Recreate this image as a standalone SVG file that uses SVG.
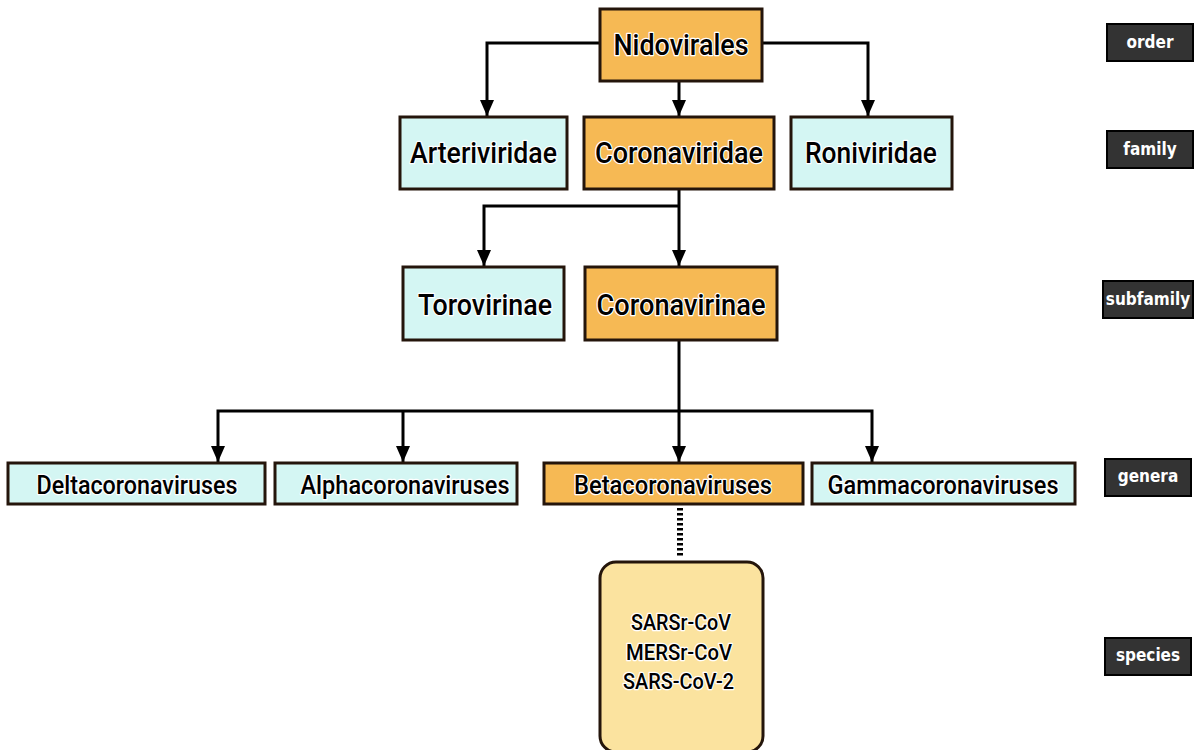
<svg xmlns="http://www.w3.org/2000/svg" width="1200" height="750" viewBox="0 0 1200 750">
<defs>
<marker id="ah" markerUnits="userSpaceOnUse" markerWidth="18" markerHeight="16" viewBox="0 0 18 16" refX="17" refY="8" orient="auto">
<path d="M1,1 L17,8 L1,15 Z" fill="#000"/>
</marker>
</defs>
<style>
.or{fill:#f6b954;stroke:#24150b;stroke-width:3}
.cy{fill:#d4f6f3;stroke:#24150b;stroke-width:3}
.sp{fill:#fbe39f;stroke:#24150b;stroke-width:3}
.t{font-family:Roboto,"Liberation Sans",sans-serif;font-weight:500;fill:#000;stroke:#fff;stroke-width:2.5;paint-order:stroke;stroke-linejoin:round;text-anchor:middle}
.big{font-size:30px}
.mid{font-size:26px}
.sm{font-size:22px}
.lb{fill:#333;stroke:#000;stroke-width:2}
.lt{font-family:"DejaVu Sans",sans-serif;font-stretch:condensed;font-weight:bold;font-size:17px;fill:#fff;text-anchor:middle}
.c{fill:none;stroke:#000;stroke-width:3}
</style>
<rect width="1200" height="750" fill="#fff"/>
<g id="connectors">
<path class="c" d="M600,43 H487 V116" marker-end="url(#ah)"/>
<path class="c" d="M762,43 H868 V116" marker-end="url(#ah)"/>
<path class="c" d="M679,81 V116" marker-end="url(#ah)"/>
<path class="c" d="M679,189 V266" marker-end="url(#ah)"/>
<path class="c" d="M679,206 H484 V266" marker-end="url(#ah)"/>
<path class="c" d="M679,340 V462" marker-end="url(#ah)"/>
<path class="c" d="M679,411 H218 V462" marker-end="url(#ah)"/>
<path class="c" d="M403,411 V462" marker-end="url(#ah)"/>
<path class="c" d="M679,411 H872 V462" marker-end="url(#ah)"/>
<path d="M680,508 V556" fill="none" stroke="#000" stroke-width="6" stroke-dasharray="2.5 2.5"/>
</g>
<g id="nidovirales"><rect class="or" x="600" y="9" width="162" height="72"/><text class="t big" x="681" y="55" textLength="135" lengthAdjust="spacingAndGlyphs">Nidovirales</text></g>
<g id="arteriviridae"><rect class="cy" x="400" y="117" width="167" height="72"/><text class="t big" x="483.5" y="163" textLength="147" lengthAdjust="spacingAndGlyphs">Arteriviridae</text></g>
<g id="coronaviridae"><rect class="or" x="584" y="117" width="190" height="72"/><text class="t big" x="679" y="163" textLength="168" lengthAdjust="spacingAndGlyphs">Coronaviridae</text></g>
<g id="roniviridae"><rect class="cy" x="791" y="117" width="161" height="72"/><text class="t big" x="871" y="163" textLength="132" lengthAdjust="spacingAndGlyphs">Roniviridae</text></g>
<g id="torovirinae"><rect class="cy" x="403" y="267" width="161" height="73"/><text class="t big" x="485" y="315" textLength="134" lengthAdjust="spacingAndGlyphs">Torovirinae</text></g>
<g id="coronavirinae"><rect class="or" x="585" y="267" width="192" height="73"/><text class="t big" x="681" y="315" textLength="169" lengthAdjust="spacingAndGlyphs">Coronavirinae</text></g>
<g id="delta"><rect class="cy" x="8" y="463" width="257" height="41"/><text class="t mid" x="137" y="494" textLength="201" lengthAdjust="spacingAndGlyphs">Deltacoronaviruses</text></g>
<g id="alpha"><rect class="cy" x="275" y="463" width="242" height="41"/><text class="t mid" x="405" y="494" textLength="209" lengthAdjust="spacingAndGlyphs">Alphacoronaviruses</text></g>
<g id="beta"><rect class="or" x="544" y="463" width="259" height="41"/><text class="t mid" x="673" y="494" textLength="198" lengthAdjust="spacingAndGlyphs">Betacoronaviruses</text></g>
<g id="gamma"><rect class="cy" x="812" y="463" width="263" height="41"/><text class="t mid" x="943" y="494" textLength="231" lengthAdjust="spacingAndGlyphs">Gammacoronaviruses</text></g>
<g id="species-box"><rect class="sp" x="600" y="562" width="163" height="190" rx="16"/>
<text class="t sm" x="681" y="630" textLength="100" lengthAdjust="spacingAndGlyphs">SARSr-CoV</text>
<text class="t sm" x="679" y="660" textLength="106" lengthAdjust="spacingAndGlyphs">MERSr-CoV</text>
<text class="t sm" x="678.5" y="689" textLength="111" lengthAdjust="spacingAndGlyphs">SARS-CoV-2</text></g>
<g id="label-order"><rect class="lb" x="1107" y="24" width="86" height="37"/><text class="lt" x="1150" y="48">order</text></g>
<g id="label-family"><rect class="lb" x="1107" y="131" width="86" height="37"/><text class="lt" x="1150" y="155">family</text></g>
<g id="label-subfamily"><rect class="lb" x="1103" y="281" width="90" height="37"/><text class="lt" x="1148" y="305">subfamily</text></g>
<g id="label-genera"><rect class="lb" x="1105" y="459" width="86" height="37"/><text class="lt" x="1148" y="482">genera</text></g>
<g id="label-species"><rect class="lb" x="1105" y="638" width="86" height="37"/><text class="lt" x="1148" y="661">species</text></g>
</svg>
